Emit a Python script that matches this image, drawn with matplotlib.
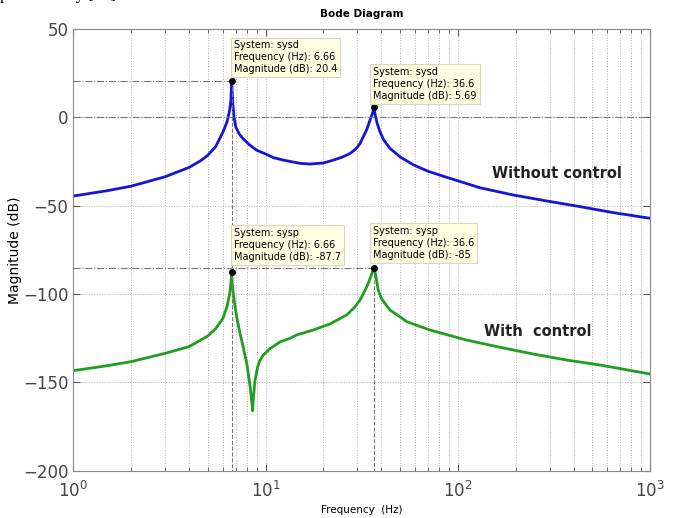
import numpy as np
import matplotlib
matplotlib.use("Agg")
import matplotlib.pyplot as plt

# magnitude (frequency in Hz, magnitude in dB)
f_sysd = [1, 1.5, 2, 3, 4, 4.55, 5, 5.5, 6, 6.3, 6.5, 6.6, 6.66, 6.75, 6.85, 7.0,
          7.3, 7.65, 8.28, 9.0, 10.1, 11.0, 12.4, 15.1, 17.0, 20.0, 22.5, 25.0,
          27.5, 29.5, 31.0, 33.5, 35.0, 36.0, 36.6, 37.2, 38.0, 39.3, 41.0, 44.3,
          50, 58.6, 70, 87.5, 130, 194, 290, 432, 644, 1000]
m_sysd = [-44.5, -41.5, -38.9, -33.6, -28.3, -24.8, -21.5, -16.5, -8.3, -2.5, 4.0,
          10.0, 20.4, 8.0, 0.0, -5.5, -9.5, -12.2, -15.7, -18.6, -20.9, -22.8,
          -24.2, -26.0, -26.4, -25.8, -24.2, -22.5, -20.4, -17.8, -14.7, -7.2,
          -1.2, 2.5, 5.69, 1.0, -3.2, -8.0, -12.5, -17.5, -22.3, -26.8, -30.5,
          -33.9, -39.8, -43.9, -47.3, -50.5, -53.9, -57.1]

f_sysp = [1, 1.5, 2, 3, 4, 5, 5.5, 6, 6.3, 6.5, 6.6, 6.66, 6.72, 6.85, 7.07,
          7.35, 7.65, 8.0, 8.3, 8.5, 8.56, 8.62, 8.8, 9.1, 9.34, 9.72, 10.5,
          11.9, 13.4, 14.5, 17.7, 21.6, 26.4, 29.0, 31.0, 33.0, 34.2, 35.5,
          36.6, 37.5, 38.5, 40.0, 44.3, 50, 54.2, 71.6, 111, 166, 247, 368, 548,
          1000]
m_sysp = [-143.3, -140.5, -138.2, -133.5, -129.7, -123.7, -119.5, -113.7, -107.0,
          -100.0, -94.0, -87.7, -95.0, -103.0, -112.8, -122.0, -130.0, -140.0,
          -152.0, -162.0, -166.0, -160.0, -149.0, -141.0, -137.5, -134.5,
          -131.0, -127.0, -125.0, -123.1, -120.3, -116.9, -111.8, -107.5,
          -103.3, -97.5, -93.9, -89.0, -85.0, -90.0, -97.7, -102.5, -109.0,
          -112.8, -115.6, -120.3, -126.0, -130.1, -133.9, -137.3, -140.1, -145.2]

# data tips: frequency, magnitude, system name
tip_f = [6.66, 36.6, 6.66, 36.6]
tip_m = [20.4, 5.69, -87.7, -85]
tip_sys = ["sysd", "sysd", "sysp", "sysp"]
tip_lbl = ["20.4", "5.69", "-87.7", "-85"]

fig = plt.figure(figsize=(6.73, 5.18), dpi=100)
ax = fig.add_axes([0.109, 0.091, 0.857, 0.853])

ax.semilogx(f_sysd, m_sysd, color="#1515d8", linewidth=2.0)
ax.semilogx(f_sysp, m_sysp, color="#1f9e1f", linewidth=2.0)

ax.set_xlim(1, 1000)
ax.set_ylim(-200, 50)
ax.set_yticks([-200, -150, -100, -50, 0, 50])

ax.grid(True, which="both", color="#b0b0b0", linestyle=":", linewidth=0.7)
ax.tick_params(which="both", direction="in", top=True, right=True,
               colors="#555555", labelsize=12, labelcolor="#444444")
ax.tick_params(which="major", length=5)
ax.tick_params(which="minor", length=3)
ax.tick_params(axis="x", which="major", pad=7)
for s in ax.spines.values():
    s.set_color("#888888")

# reference lines drawn on the chart
dc = "#777777"
ax.plot([1, tip_f[0]], [tip_m[0], tip_m[0]], color=dc, linestyle="-.", linewidth=0.8)
ax.plot([1, 1000], [0, 0], color=dc, linestyle="-.", linewidth=0.8)
ax.plot([1, tip_f[3]], [tip_m[3], tip_m[3]], color=dc, linestyle="-.", linewidth=0.8)
ax.plot([tip_f[0], tip_f[0]], [tip_m[0], -200], color=dc, linestyle="--", linewidth=0.8)
ax.plot([tip_f[3], tip_f[3]], [tip_m[3], -200], color=dc, linestyle="--", linewidth=0.8)

ax.plot(tip_f, tip_m, "o", color="black", markersize=4, zorder=5)

box_pos = [(6.85, 43.5), (36.3, 28.3), (6.85, -62.5), (36.3, -61.3)]
for (bx, by), s, lbl, fq in zip(box_pos, tip_sys, tip_lbl, tip_f):
    txt = "System: %s\nFrequency (Hz): %s\nMagnitude (dB): %s" % (s, fq, lbl)
    ax.text(bx, by, txt, fontsize=7, va="top", ha="left", linespacing=1.25,
            zorder=6,
            bbox=dict(boxstyle="square,pad=0.3", facecolor="#ffffe4",
                      edgecolor="#d8d8c0", linewidth=0.8))

ax.text(328, -31.5, "Without control", fontsize=10.5, fontweight="bold",
        ha="center", va="center", color="#222222")
ax.text(261, -121, "With  control", fontsize=10.5, fontweight="bold",
        ha="center", va="center", color="#222222")

ax.set_title("Bode Diagram", fontsize=7.5, fontweight="bold", pad=9)
ax.set_xlabel("Frequency  (Hz)", fontsize=7.5, labelpad=3)
ax.set_ylabel("Magnitude (dB)", fontsize=10, labelpad=1)

# fragment of the surrounding page text, cut by the top edge
fig.text(0.0, 1.009, "perimentally [15].", fontsize=12, family="Liberation Serif",
         va="center", ha="left")

fig.savefig("out.png", dpi=100)
